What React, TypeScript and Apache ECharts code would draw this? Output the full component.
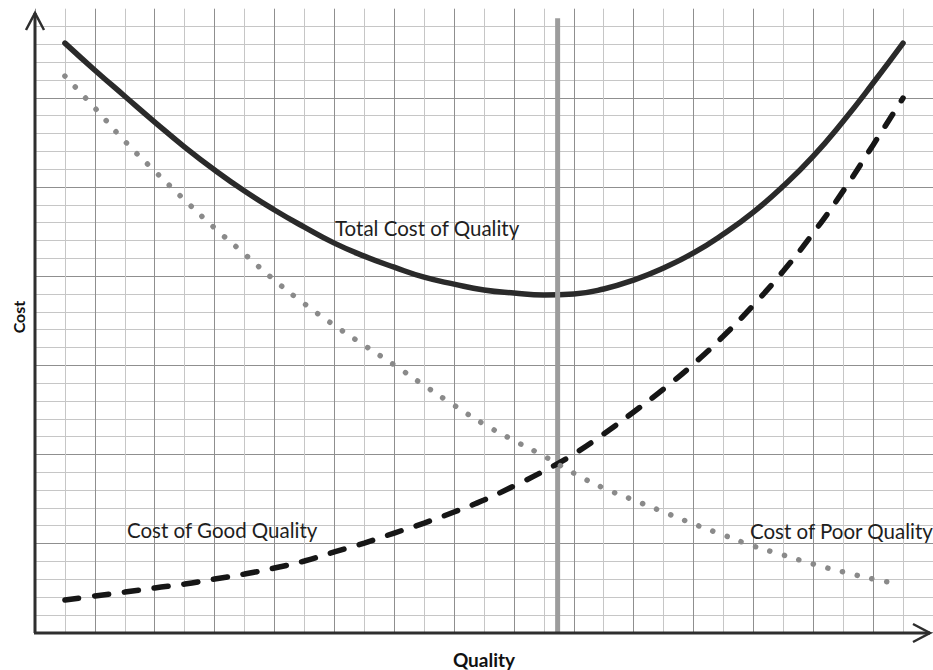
import React, { useEffect, useRef } from "react";
import * as echarts from "echarts";

// Quality positions (grid units) and cost values (grid units)
const quality = [1, 2, 3, 4, 5, 6, 7, 8, 9, 10, 11, 12, 13, 14, 15, 16, 17, 18, 19, 20, 21, 22, 23, 24, 25, 26, 27, 28, 29];
const totalCost = [33.07, 31.55, 30.09, 28.64, 27.24, 25.95, 24.77, 23.71, 22.75, 21.85, 21.12, 20.5, 19.94, 19.55, 19.22, 19.05, 18.94, 19.0, 19.28, 19.78, 20.46, 21.3, 22.36, 23.59, 25.05, 26.73, 28.69, 30.83, 33.07];
const goodQualityCost = [1.83, 2.06, 2.28, 2.51, 2.73, 3.01, 3.29, 3.63, 4.02, 4.53, 5.03, 5.59, 6.15, 6.77, 7.44, 8.23, 9.07, 10.02, 11.15, 12.38, 13.67, 15.07, 16.64, 18.38, 20.29, 22.42, 24.78, 27.36, 29.99];
const poorQuality = [1, 2, 3, 4, 5, 6, 7, 8, 9, 10, 11, 12, 13, 14, 15, 16, 17, 18, 19, 20, 21, 22, 23, 24, 25, 26, 27, 28, 28.5];
const poorQualityCost = [31.22, 29.43, 27.57, 25.89, 24.27, 22.7, 21.24, 19.77, 18.45, 17.24, 16.12, 15.02, 13.87, 12.76, 11.7, 10.78, 9.91, 8.95, 8.11, 7.44, 6.77, 6.1, 5.48, 4.86, 4.36, 3.85, 3.41, 3.01, 2.84];
const optimumQuality = 17.46;
const optimumTop = 34.47;

const xMax = 30;
const yMax = 35;

const labelTotal = "Total Cost of Quality";
const labelGood = "Cost of Good Quality";
const labelPoor = "Cost of Poor Quality";
const xTitle = "Quality";
const yTitle = "Cost";

const FONT = "Lato, 'Open Sans', sans-serif";

export default function App() {
  const ref = useRef<HTMLDivElement>(null);

  useEffect(() => {
    document.body.style.margin = "0";
    if (!ref.current) return;
    const chart = echarts.init(ref.current, null, { renderer: "svg" });

    const zip = (xs: number[], ys: number[]) => xs.map((x, i) => [x, ys[i]]);

    const axisColor = "#2e2e2e";

    chart.setOption({
      animation: false,
      backgroundColor: "#ffffff",
      grid: { left: 35, right: 0, top: 8.7, bottom: 37.3, outerBoundsMode: "none" },
      xAxis: {
        type: "value",
        min: 0,
        max: xMax,
        interval: 2,
        axisLine: { show: false },
        axisTick: { show: false },
        axisLabel: { show: false },
        splitLine: { show: true, lineStyle: { color: "#8f8f8f", width: 1 } },
        minorTick: { show: false, splitNumber: 2 },
        minorSplitLine: { show: true, lineStyle: { color: "#c6c6c6", width: 1 } },
      },
      yAxis: {
        type: "value",
        min: 0,
        max: yMax,
        interval: 5,
        axisLine: { show: false },
        axisTick: { show: false },
        axisLabel: { show: false },
        splitLine: { show: true, showMaxLine: false, lineStyle: { color: "#8f8f8f", width: 1 } },
        minorTick: { show: false, splitNumber: 5 },
        minorSplitLine: { show: true, lineStyle: { color: "#c6c6c6", width: 1 } },
      },
      series: [
        {
          type: "line",
          name: labelTotal,
          data: zip(quality, totalCost),
          smooth: true,
          symbol: "none",
          lineStyle: { color: "#2a2a2a", width: 5.5, cap: "round" },
          z: 2,
        },
        {
          type: "line",
          name: "optimum",
          data: [
            [optimumQuality, 0],
            [optimumQuality, optimumTop],
          ],
          symbol: "none",
          lineStyle: { color: "#9c9c9c", width: 5 },
          z: 3,
        },
        {
          type: "line",
          name: labelGood,
          data: zip(quality, goodQualityCost),
          smooth: true,
          symbol: "none",
          lineStyle: { color: "#161616", width: 5.5, type: [14, 16], cap: "round" },
          z: 4,
        },
        {
          type: "line",
          name: labelPoor,
          data: zip(poorQuality, poorQualityCost),
          smooth: true,
          symbol: "none",
          lineStyle: { color: "#8a8a8a", width: 5.5, type: [0.1, 15], cap: "round" },
          z: 5,
        },
      ],
      graphic: [
        // axes with open arrow heads
        { type: "line", shape: { x1: 35, y1: 633, x2: 35, y2: 13 }, style: { stroke: axisColor, lineWidth: 3 }, z: 10 },
        { type: "polyline", shape: { points: [[26, 30], [35, 13], [44, 30]] }, style: { stroke: axisColor, lineWidth: 2.5, fill: null }, z: 10 },
        { type: "line", shape: { x1: 34, y1: 633, x2: 930, y2: 633 }, style: { stroke: axisColor, lineWidth: 3 }, z: 10 },
        { type: "polyline", shape: { points: [[913, 624], [930, 633], [913, 642]] }, style: { stroke: axisColor, lineWidth: 2.5, fill: null }, z: 10 },
        // curve labels
        { type: "text", x: 335, y: 228, style: { text: labelTotal, font: `20.5px ${FONT}`, fill: "#1e1e1e", align: "left", verticalAlign: "middle" }, z: 11 },
        { type: "text", x: 127, y: 530, style: { text: labelGood, font: `20.5px ${FONT}`, fill: "#1e1e1e", align: "left", verticalAlign: "middle" }, z: 11 },
        { type: "text", x: 750, y: 531, style: { text: labelPoor, font: `20.5px ${FONT}`, fill: "#1e1e1e", align: "left", verticalAlign: "middle" }, z: 11 },
        // axis titles
        { type: "text", x: 484, y: 659, style: { text: xTitle, font: `bold 19px ${FONT}`, fill: "#111", align: "center", verticalAlign: "middle" }, z: 11 },
        { type: "text", x: 18, y: 317, rotation: Math.PI / 2, style: { text: yTitle, font: `bold 16px ${FONT}`, fill: "#111", align: "center", verticalAlign: "middle" }, z: 11 },
      ],
    });

    return () => chart.dispose();
  }, []);

  return <div ref={ref} style={{ position: "fixed", left: 0, top: 0, width: 933, height: 670 }} />;
}
